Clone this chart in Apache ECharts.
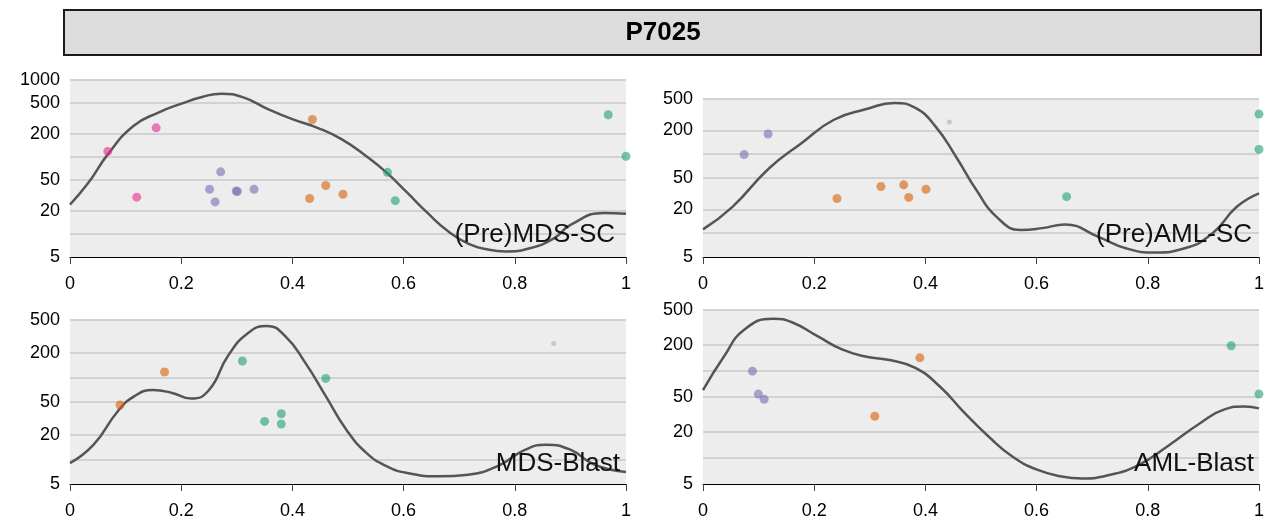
<!DOCTYPE html>
<html>
<head>
<meta charset="utf-8">
<script src="https://cdn.jsdelivr.net/npm/echarts@6/dist/echarts.min.js"></script>
<style>
html, body { margin: 0; padding: 0; background: #fff; }
#main { width: 1268px; height: 523px; }
</style>
</head>
<body>
<div id="main"></div>
<script>
// 标题与面板名称
var chartTitle = 'P7025';
var panelNames = ['(Pre)MDS-SC', '(Pre)AML-SC', 'MDS-Blast', 'AML-Blast'];
var panelMax = [1000, 500, 500, 500];

// 刻度
var yLabelValues = [5, 20, 50, 200, 500, 1000];
var yGridValues = [10, 20, 50, 100, 200, 500, 1000];

// (Pre)MDS-SC
var mdsScCurveX = [0, 0.033, 0.068, 0.114, 0.158, 0.202, 0.239, 0.272, 0.313, 0.357, 0.401, 0.445, 0.489, 0.533, 0.570, 0.607, 0.643, 0.680, 0.717, 0.754, 0.783, 0.827, 0.871, 0.901, 0.960, 1.0];
var mdsScCurveY = [24, 46, 108, 252, 375, 497, 607, 664, 589, 415, 307, 239, 169, 102, 62, 34, 18.7, 10.8, 7.4, 6.2, 5.9, 6.5, 8.8, 13.2, 18.7, 18.2];
var mdsScPink = [[0.068, 118], [0.120, 30], [0.155, 239]];
var mdsScPurple = [[0.271, 64], [0.251, 38], [0.261, 26], [0.299, 36], [0.301, 35.5], [0.331, 38]];
var mdsScOrange = [[0.436, 307], [0.460, 42.5], [0.431, 28.8], [0.491, 32.7]];
var mdsScGreen = [[0.571, 63], [0.585, 27], [0.968, 353], [1.0, 102]];
var mdsScGrey = [];

// (Pre)AML-SC
var amlScCurveX = [0, 0.053, 0.1185, 0.177, 0.2355, 0.294, 0.344, 0.382, 0.418, 0.455, 0.492, 0.528, 0.572, 0.610, 0.651, 0.711, 0.762, 0.8135, 0.865, 0.916, 0.960, 1.0];
var amlScCurveY = [11.2, 21.6, 66, 138, 273, 373, 445, 385, 225, 93, 35, 16.1, 11.0, 11.6, 12.9, 9.0, 6.4, 5.7, 6.4, 9.9, 21.6, 32];
var amlScPink = [];
var amlScPurple = [[0.074, 99], [0.117, 180]];
var amlScOrange = [[0.241, 27.5], [0.320, 39], [0.361, 41], [0.370, 28.4], [0.401, 36]];
var amlScGreen = [[0.654, 29], [1.0, 322], [1.0, 115]];
var amlScGrey = [[0.443, 255]];

// MDS-Blast
var mdsBlCurveX = [0, 0.0425, 0.086, 0.116, 0.149, 0.182, 0.218, 0.250, 0.284, 0.321, 0.354, 0.387, 0.423, 0.460, 0.497, 0.533, 0.570, 0.607, 0.665, 0.716, 0.768, 0.819, 0.856, 0.900, 0.943, 1.0];
var mdsBlCurveY = [9.0, 15.1, 38.6, 59, 70, 65, 55, 70, 182, 350, 423, 318, 151, 59, 23, 12, 8.2, 6.8, 6.2, 6.5, 8.2, 13.1, 15.1, 13.1, 8.6, 7.0];
var mdsBlPink = [];
var mdsBlPurple = [];
var mdsBlOrange = [[0.090, 46], [0.170, 116]];
var mdsBlGreen = [[0.310, 158], [0.460, 97], [0.350, 29], [0.380, 36], [0.380, 27]];
var mdsBlGrey = [[0.870, 259]];

// AML-Blast
var amlBlCurveX = [0, 0.038, 0.0746, 0.126, 0.162, 0.206, 0.250, 0.294, 0.338, 0.382, 0.426, 0.470, 0.5135, 0.557, 0.601, 0.645, 0.682, 0.733, 0.784, 0.835, 0.894, 0.938, 0.974, 1.0];
var amlBlCurveY = [60, 147, 299, 397, 357, 250, 176, 145, 132, 108, 66, 33, 17.6, 10.3, 7.3, 6.1, 5.8, 6.4, 8.3, 13.5, 25, 36, 39, 37];
var amlBlPink = [];
var amlBlPurple = [[0.089, 99], [0.0995, 54], [0.110, 47]];
var amlBlOrange = [[0.390, 141], [0.309, 30]];
var amlBlGreen = [[0.950, 194], [1.0, 54]];
var amlBlGrey = [];

var panelData = [
	{ cx: mdsScCurveX, cy: mdsScCurveY, pink: mdsScPink, purple: mdsScPurple, orange: mdsScOrange, green: mdsScGreen, grey: mdsScGrey },
	{ cx: amlScCurveX, cy: amlScCurveY, pink: amlScPink, purple: amlScPurple, orange: amlScOrange, green: amlScGreen, grey: amlScGrey },
	{ cx: mdsBlCurveX, cy: mdsBlCurveY, pink: mdsBlPink, purple: mdsBlPurple, orange: mdsBlOrange, green: mdsBlGreen, grey: mdsBlGrey },
	{ cx: amlBlCurveX, cy: amlBlCurveY, pink: amlBlPink, purple: amlBlPurple, orange: amlBlOrange, green: amlBlGreen, grey: amlBlGrey }
];

// 布局
var grids = [
	{ left: 70, top: 80, width: 556, height: 177 },
	{ left: 703, top: 99, width: 556, height: 158 },
	{ left: 70, top: 320, width: 556, height: 164 },
	{ left: 703, top: 310, width: 556, height: 174 }
];
var labelPos = [[615, 235], [1252, 235], [620, 464], [1254, 464]];
var groupColors = { pink: '#e7298a', purple: '#7570b3', orange: '#d95f02', green: '#1b9e77' };
var fontFamily = '"Liberation Sans", Arial, sans-serif';

function lg(v) {
	return Math.log10(v);
}
function toLog(points) {
	return points.map(function(p) { return [p[0], lg(p[1])]; });
}

var option = {
	animation: false,
	backgroundColor: '#fff',
	textStyle: { fontFamily: fontFamily },
	grid: [],
	xAxis: [],
	yAxis: [],
	series: [],
	graphic: [
		{
			type: 'rect',
			shape: { x: 64, y: 10, width: 1197, height: 45 },
			style: { fill: '#dcdcdc', stroke: '#231815', lineWidth: 2 }
		},
		{
			type: 'text',
			x: 663, y: 33,
			style: { text: chartTitle, font: 'bold 26px ' + fontFamily, fill: '#000', align: 'center', verticalAlign: 'middle' }
		}
	]
};

for (var i = 0; i < 4; i++) {
	var g = grids[i];
	option.grid.push({
		left: g.left, top: g.top, width: g.width, height: g.height,
		show: true, backgroundColor: '#ededed', borderWidth: 0
	});
	option.xAxis.push({
		type: 'value', gridIndex: i, min: 0, max: 1, interval: 0.2,
		axisLine: { show: true, lineStyle: { color: '#000', width: 1 } },
		axisTick: { show: true, length: 7, lineStyle: { color: '#444', width: 1 } },
		axisLabel: { fontSize: 18, color: '#000', margin: 18, fontFamily: fontFamily },
		splitLine: { show: false }
	});
	option.yAxis.push({
		type: 'value', gridIndex: i, min: lg(5), max: lg(panelMax[i]),
		axisLine: { show: false },
		axisTick: { show: false, customValues: yGridValues.map(lg) },
		axisLabel: {
			fontSize: 18, color: '#000', margin: 10, fontFamily: fontFamily,
			customValues: yLabelValues.map(lg),
			formatter: function(v) { return String(Math.round(Math.pow(10, v))); }
		},
		splitLine: { show: true, lineStyle: { color: '#d2d2d2', width: 2 } }
	});

	var d = panelData[i];
	var curve = d.cx.map(function(x, k) { return [x, lg(d.cy[k])]; });
	option.series.push({
		type: 'line', xAxisIndex: i, yAxisIndex: i, data: curve,
		smooth: true, showSymbol: false, symbol: 'none', z: 2,
		lineStyle: { color: '#555', width: 2.5 }
	});
	['pink', 'purple', 'orange', 'green'].forEach(function(key) {
		if (d[key].length) {
			option.series.push({
				type: 'scatter', xAxisIndex: i, yAxisIndex: i, data: toLog(d[key]),
				symbolSize: 9, z: 3,
				itemStyle: { color: groupColors[key], opacity: 0.6 }
			});
		}
	});
	if (d.grey.length) {
		option.series.push({
			type: 'scatter', xAxisIndex: i, yAxisIndex: i, data: toLog(d.grey),
			symbolSize: 5, z: 3,
			itemStyle: { color: '#bdbdbd' }
		});
	}

	option.graphic.push({
		type: 'text', x: labelPos[i][0], y: labelPos[i][1], z: 10,
		style: { text: panelNames[i], font: '26px ' + fontFamily, fill: '#111', align: 'right', verticalAlign: 'middle' }
	});
}

var chart = echarts.init(document.getElementById('main'));
chart.setOption(option);
</script>
</body>
</html>
